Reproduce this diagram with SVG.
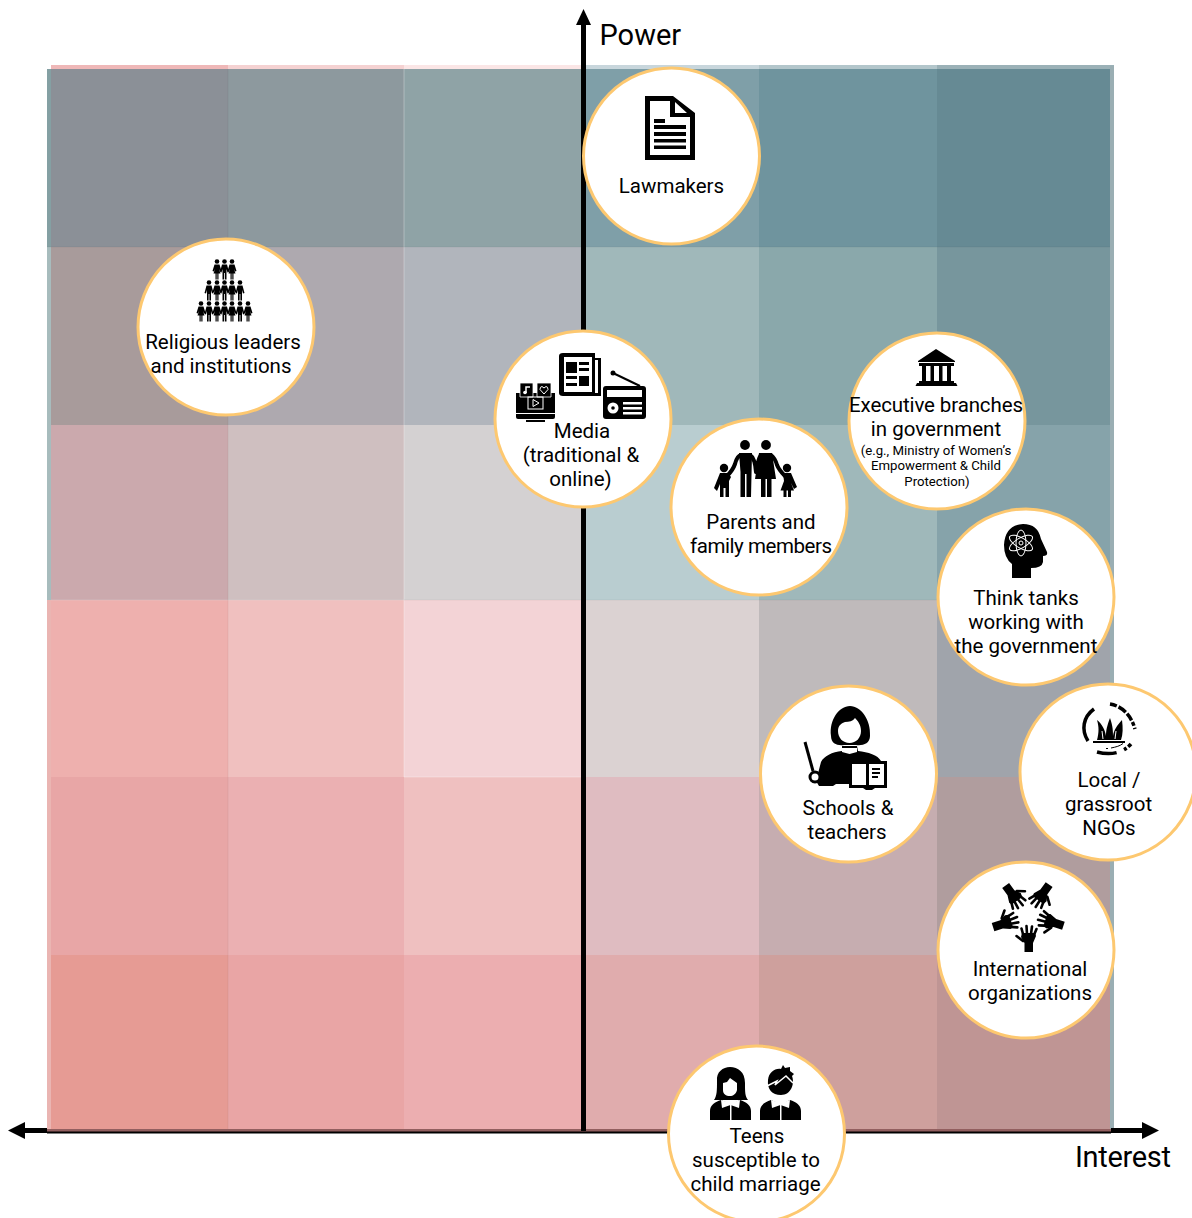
<svg xmlns="http://www.w3.org/2000/svg" width="1192" height="1218" viewBox="0 0 1192 1218">
<style>
.n{fill:#fff;stroke:#fdc870;stroke-width:3}
text{font-family:Roboto,"Liberation Sans",sans-serif;font-size:20.5px;fill:#000;text-anchor:middle}
.s{font-size:13.2px}
.a{font-size:29px;text-anchor:start}
.w{fill:none;stroke:#fff}
.f{fill:none;stroke:#000;stroke-width:2.6;stroke-linecap:round}
</style>
<defs>
<g id="p"><circle cx="0" cy="-8.5" r="2.3"/><path d="M-2.5-5.500H2.500L4.500 2 3 2.500 2-1V9.500H.4V3H-.4V9.500H-2V-1L-3 2.500-4.500 2Z"/></g>
<g id="pw"><circle cx="0" cy="-8.500" r="2.3"/><path d="M-2.500-5.500H2.500L4.500 1 3.200 1.500 2-1 3.500 3.500H1.500V9.500H.3V3.500H-.3V9.500H-1.500V3.500H-3.500L-2-1-3.200 1.500-4.500 1Z"/></g>
<g id="hand">
<path d="M1024.500 952V943L1021 937 1022 933H1035L1036 936 1033 943V952Z"/>
<path class="f" d="M1023 934 1021.500 928.500M1027 934 1026.500 926M1031 934 1032 926.500M1034 935 1036.500 929M1023 941 1016.500 936"/>
</g>
</defs>
<g id="grid">
<rect x="51" y="65" width="177" height="5" fill="#efb8b8"/><rect x="228" y="65" width="176" height="5" fill="#f5d2d2"/><rect x="404" y="65" width="180" height="5" fill="#fbe6e6"/><rect x="584" y="65" width="175" height="5" fill="#c8d6dc"/><rect x="759" y="65" width="178" height="5" fill="#b3c6cb"/><rect x="937" y="65" width="177" height="5" fill="#9bb1b7"/>
<rect x="47" y="69" width="4" height="1060" fill="#a7bcbd"/>
<rect x="47" y="600" width="4" height="530" fill="#eab5b2"/>
<rect x="1110" y="66" width="4" height="1064" fill="#9aaeb3"/>
<g>
<rect x="51" y="69" width="177" height="178" fill="#8b9097"/><rect x="228" y="69" width="176" height="178" fill="#8d999e"/><rect x="404" y="69" width="180" height="178" fill="#8fa3a6"/><rect x="584" y="69" width="175" height="178" fill="#7f9fa8"/><rect x="759" y="69" width="178" height="178" fill="#6f949e"/><rect x="937" y="69" width="173" height="178" fill="#668a94"/>
<rect x="47" y="69" width="4" height="178" fill="#84a0a3"/>
<rect x="51" y="247" width="177" height="178" fill="#a89b9b"/><rect x="228" y="247" width="176" height="178" fill="#aea9af"/><rect x="404" y="247" width="180" height="178" fill="#b1b5bc"/><rect x="584" y="247" width="175" height="178" fill="#a0b8ba"/><rect x="759" y="247" width="178" height="178" fill="#8aa8ab"/><rect x="937" y="247" width="173" height="178" fill="#77969d"/>
<rect x="51" y="425" width="177" height="175" fill="#cba9ad"/><rect x="228" y="425" width="176" height="175" fill="#cfbfc0"/><rect x="404" y="425" width="180" height="175" fill="#d4d1d2"/><rect x="584" y="425" width="175" height="175" fill="#b9cdd0"/><rect x="759" y="425" width="178" height="175" fill="#9fb8ba"/><rect x="937" y="425" width="173" height="175" fill="#86a3aa"/>
<rect x="51" y="600" width="177" height="177" fill="#eeb0ae"/><rect x="228" y="600" width="176" height="177" fill="#f0c0bf"/><rect x="404" y="600" width="180" height="177" fill="#f3d3d6"/><rect x="584" y="600" width="175" height="177" fill="#dbd2d2"/><rect x="759" y="600" width="178" height="177" fill="#bfbabb"/><rect x="937" y="600" width="173" height="177" fill="#a0a4ab"/>
<rect x="51" y="777" width="177" height="178" fill="#e8a6a6"/><rect x="228" y="777" width="176" height="178" fill="#ebb0b2"/><rect x="404" y="777" width="180" height="178" fill="#efc0c0"/><rect x="584" y="777" width="175" height="178" fill="#dfbcc1"/><rect x="759" y="777" width="178" height="178" fill="#c6adb0"/><rect x="937" y="777" width="173" height="178" fill="#b09d9e"/>
<rect x="51" y="955" width="177" height="174" fill="#e69b94"/><rect x="228" y="955" width="176" height="174" fill="#e9a5a5"/><rect x="404" y="955" width="180" height="174" fill="#ecaeb0"/><rect x="584" y="955" width="175" height="174" fill="#e0acad"/><rect x="759" y="955" width="178" height="174" fill="#cea09d"/><rect x="937" y="955" width="173" height="174" fill="#bf9594"/>
</g>
<path d="M404 69V777M584 777H404M404 600H51" stroke="#fff" stroke-opacity=".3" fill="none"/>
<path d="M228 69V1129M47 247H1110M51 600H1110" stroke="#000" stroke-opacity=".05" fill="none"/>
<rect x="47" y="1129" width="1064" height="3" fill="#925f5f"/>
</g>
<g id="connectors">
<path d="M583.500 1131V20" stroke="#000" stroke-width="5" fill="none"/>
<path d="M583.500 9 576 25H591Z"/>
<path d="M47 1132.500H1111" stroke="#000" stroke-width="2" fill="none"/>
<path d="M22 1130.500H47M1111 1130.500H1145" stroke="#000" stroke-width="5" fill="none"/>
<path d="M8 1130.500 25 1122V1139Z"/><path d="M1159 1130.500 1142 1122V1139Z"/>
</g>
<g id="axis-labels">
<text class="a" x="599.500" y="45">Power</text>
<text class="a" x="1075" y="1167" textLength="96">Interest</text>
</g>
<g id="lawmakers">
<circle class="n" cx="671.500" cy="156" r="88"/>
<path d="M645 96H673L695 113V160H645ZM650 101V155H690V117H670V101ZM675 102V113H687Z" fill-rule="evenodd"/>
<path d="M654 119H665V123H654ZM654 125H686V129H654ZM654 132H686V136H654ZM654 139H686V142.500H654ZM654 145.500H686V149H654Z"/>
<text x="671.500" y="193">Lawmakers</text>
</g>
<g id="religious">
<circle class="n" cx="226" cy="327" r="88"/>
<use href="#pw" x="217" y="270"/><use href="#p" x="224.500" y="270"/><use href="#pw" x="232" y="270"/>
<use href="#p" x="209" y="291"/><use href="#pw" x="217" y="291"/><use href="#p" x="224.500" y="291"/><use href="#pw" x="232" y="291"/><use href="#p" x="240" y="291"/>
<use href="#pw" x="201" y="312"/><use href="#p" x="209" y="312"/><use href="#pw" x="217" y="312"/><use href="#p" x="224.500" y="312"/><use href="#pw" x="232" y="312"/><use href="#p" x="240" y="312"/><use href="#pw" x="248" y="312"/>
<text x="223" y="349">Religious leaders</text>
<text x="221" y="373">and institutions</text>
</g>
<g id="media">
<circle class="n" cx="583" cy="419" r="88"/>
<path d="M563 353H595V358H601V396H563Q559 396 559 393V356Q559 353 563 353Z"/>
<path d="M564 357H592V392H564Z" fill="#fff"/><path d="M595 360H598V393H595Z" fill="#fff"/>
<path d="M566 362H577V373H566ZM579 362H589V365H579ZM579 368H589V371H579ZM566 376H577V379H566ZM579 376H589V386H579ZM566 383H577V386H566Z"/>
<path d="M613 373 640 386" stroke="#000" stroke-width="2" fill="none"/><circle cx="613" cy="373" r="2.500"/>
<rect x="603" y="386" width="43" height="33" rx="3"/>
<rect x="607" y="390" width="35" height="7" fill="#fff"/>
<circle cx="613" cy="408" r="5.500" fill="#fff"/><circle cx="613" cy="408" r="1.800"/>
<path d="M623 402H642V404.500H623ZM623 407H642V409.500H623ZM623 412H642V414.500H623Z" fill="#fff"/>
<path d="M516 393H555V417Q555 419 553 419H518Q516 419 516 417Z"/>
<path d="M520 383H533V397H520ZM537 383H551V397H537Z" stroke="#fff" stroke-width=".8"/>
<path d="M526 393V387H530" class="w" stroke-width="1.500"/><circle cx="525" cy="392.500" r="1.800" fill="#fff"/>
<path d="M544 394 540 389.500Q540 386.500 542 386.500L544 388 546 386.500Q548 386.500 548 389.500Z" class="w" stroke-width="1"/>
<rect x="528" y="397" width="15" height="12" class="w"/><path d="M533 399.500V406.500L539 403Z" class="w"/>
<path d="M516 413.500H555" stroke="#fff" stroke-width="1.200"/><path d="M526 420H545V422H526Z"/>
<text x="582" y="438">Media</text>
<text x="581" y="462">(traditional &amp;</text>
<text x="580.500" y="486">online)</text>
</g>
<g id="parents">
<circle class="n" cx="759" cy="507" r="88"/>
<circle cx="745" cy="445" r="4.900"/><circle cx="766" cy="445" r="4.900"/><circle cx="724" cy="468" r="4.200"/><circle cx="787" cy="468" r="4.200"/>
<path d="M739 453H752L751 497H746.500V474H745V497H740.500V472Z"/>
<path d="M759 453H772L776 479H771.500V497H767V479H765.500V497H761V479H755Z"/>
<path d="M741 455Q737 456 735 464 733 470 727 476M750 455Q755 458 756 472M761 455Q758 459 756 472M771 455Q775 458 777 465 779 470 785 476" fill="none" stroke="#000" stroke-width="4" stroke-linecap="round"/>
<path d="M720 473H728L731 477 729 481V497H725.500V488H723.500V497H720V484L717 491 714 488Z"/>
<path d="M783 473H791L797 487 794 489 791 483 794 490.500H791V497H788V490.500H786.500V497H783.500V490.500H780.500L784 481Z"/>
<text x="761" y="529">Parents and</text>
<text x="761" y="553" textLength="142">family members</text>
</g>
<g id="executive">
<circle class="n" cx="937" cy="421" r="88"/>
<path d="M936 349 955 361V362H918V361ZM919 363H954V366H951V381H954V383H956L957.500 386H915.500L917 383H919V381H922V366H919Z"/>
<path d="M926 366H930.500V381H926ZM934 366H939V381H934ZM942.500 366H947V381H942.500Z" fill="#fff"/>
<text x="936" y="412" textLength="174">Executive branches</text>
<text x="936" y="436">in government</text>
<text class="s" x="936" y="455">(e.g., Ministry of Women’s</text>
<text class="s" x="936" y="470">Empowerment  &amp; Child</text>
<text class="s" x="937" y="486">Protection)</text>
</g>
<g id="thinktanks">
<circle class="n" cx="1026" cy="597" r="88"/>
<path d="M1012 578V564Q1004 558 1004 545 1005 525 1023 524 1038 524 1041 539L1047 552Q1048 556 1043 556V562Q1042 568 1031 568V578Z"/>
<g class="w" stroke-width="1"><ellipse cx="1021" cy="543" rx="13" ry="5" transform="rotate(30 1021 543)"/><ellipse cx="1021" cy="543" rx="13" ry="5" transform="rotate(-30 1021 543)"/><ellipse cx="1021" cy="543" rx="5" ry="13"/><circle cx="1021" cy="543" r="2"/></g>
<text x="1026" y="605">Think tanks</text>
<text x="1026" y="629">working with</text>
<text x="1026" y="653">the government</text>
</g>
<g id="schools">
<circle class="n" cx="848.500" cy="774" r="88"/>
<path d="M831 736C829 720 839 706 850 706 861 706 871 720 870 736 870 744 862 746 856 745H844C838 746 831 744 831 736Z"/>
<path d="M838 731C838 725 842 723 845 722 849 722 853 721 855 718 858 721 861 725 861 731 861 738 856 743 849.500 743 843 743 838 738 838 731Z" fill="#fff"/>
<path d="M842 746H857L858 751C868 752 878 755 881 761H850V784L836 784 833 786H819L816 781 821 762C824 756 832 752 842 751Z"/>
<path d="M842 748H857V752L849.500 754 842 752Z" fill="#fff"/>
<path d="M805 742 813 771" stroke="#000" stroke-width="3" fill="none"/>
<circle cx="815" cy="777" r="5" fill="#fff" stroke="#000" stroke-width="3"/>
<path d="M849 761H887V788H875L872 790H866L863 788H849Z"/><path d="M852 764H866V785H852ZM869 764H884V785H869Z" fill="#fff"/>
<path d="M872 768H880V770H872ZM872 772H880V774H872ZM872 776H878V778H872Z"/>
<text x="848" y="815">Schools &amp;</text>
<text x="847" y="839">teachers</text>
</g>
<g id="ngos">
<circle class="n" cx="1108" cy="772" r="88"/>
<path d="M1094 709C1083 717 1081 730 1088 741" fill="none" stroke="#000" stroke-width="3.500"/>
<path d="M1110 704C1122 706 1131 715 1135 729" fill="none" stroke="#000" stroke-width="3.500" stroke-dasharray="7 2 9 2 8 2 4 2"/>
<path d="M1131 744C1124 752 1112 756 1097 752" fill="none" stroke="#000" stroke-width="3.500" stroke-dasharray="4 2 3 8 22"/>
<path d="M1097 740C1099 732 1099 727 1097 720 1102 724 1105 730 1106 736 1106 730 1107 726 1110 718 1113 726 1113 732 1113 736 1114 729 1117 726 1122 720 1123 728 1123 734 1121 740Z"/>
<path d="M1103 739 1102 731M1115 739 1116 731" stroke="#fff" fill="none"/>
<path d="M1093 741H1125V743H1093Z"/>
<path d="M1106 748.500H1108M1111 748C1116 747 1120 746 1123 743.500" fill="none" stroke="#000" stroke-width="1"/>
<text x="1109" y="787">Local /</text>
<text x="1108.500" y="811">grassroot</text>
<text x="1109" y="835">NGOs</text>
</g>
<g id="international">
<circle class="n" cx="1026" cy="950" r="88"/>
<use href="#hand"/>
<use href="#hand" transform="rotate(72 1028 915)"/>
<use href="#hand" transform="rotate(144 1028 915)"/>
<use href="#hand" transform="rotate(216 1028 915)"/>
<use href="#hand" transform="rotate(288 1028 915)"/>
<text x="1030" y="976">International</text>
<text x="1030" y="1000">organizations</text>
</g>
<g id="teens">
<circle class="n" cx="756.500" cy="1134" r="88"/>
<path d="M717 1081C716 1072 723 1067 730 1067 738 1067 745 1072 745 1083 745 1092 745 1096 748 1100H714C717 1096 717 1090 717 1081Z"/>
<path d="M723 1083 727 1082 730 1078 737 1083V1090C736 1094 733 1096 730 1096 726 1096 723 1094 723 1090Z" fill="#fff"/>
<path d="M721 1100C715 1102 710 1105 710 1111V1120H730V1104ZM731.500 1104V1120H751V1111C751 1105 746 1102 740 1100Z"/>
<path d="M721 1100 730.500 1103 740 1100 739 1108 730.500 1105 722 1108Z" fill="#fff"/>
<path d="M768 1080C769 1072 775 1068 781 1069L783 1065 785 1068 790 1067 790 1071 794 1074 792 1076C795 1084 791 1095 781 1095 772 1095 767 1089 768 1080Z"/>
<path d="M767 1086 777 1081 775 1085 786 1076 793 1083" fill="none" stroke="#fff" stroke-width="1.500"/>
<path d="M771 1100C765 1102 760 1105 760 1111V1120H780V1104ZM781.500 1104V1120H801V1111C801 1105 796 1102 790 1100Z"/>
<path d="M771 1100 780.500 1103 790 1100 789 1108 780.500 1105 772 1108Z" fill="#fff"/>
<text x="757" y="1143">Teens</text>
<text x="756" y="1167">susceptible to</text>
<text x="755.500" y="1191">child marriage</text>
</g>
</svg>
